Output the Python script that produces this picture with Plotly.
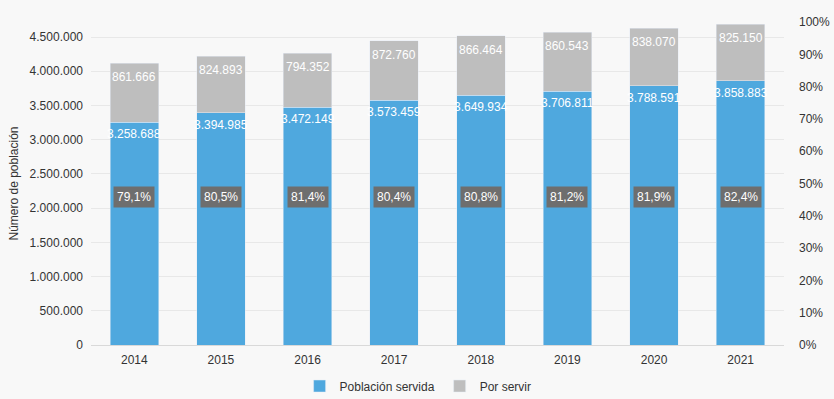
import plotly.graph_objects as go

years = ["2014", "2015", "2016", "2017", "2018", "2019", "2020", "2021"]
servida = [3258688, 3394985, 3472149, 3573459, 3649934, 3706811, 3788591, 3858883]
por_servir = [861666, 824893, 794352, 872760, 866464, 860543, 838070, 825150]
pct = [0.791, 0.805, 0.814, 0.804, 0.808, 0.812, 0.819, 0.824]
pct_labels = ["79,1%", "80,5%", "81,4%", "80,4%", "80,8%", "81,2%", "81,9%", "82,4%"]
left_ticks = [0, 500000, 1000000, 1500000, 2000000, 2500000, 3000000, 3500000, 4000000, 4500000]
right_ticks = [0, 0.1, 0.2, 0.3, 0.4, 0.5, 0.6, 0.7, 0.8, 0.9, 1.0]


def fmt(v):
    return f"{v:,}".replace(",", ".")


FONT = "Liberation Sans, Arial, sans-serif"
BLUE = "#4fa8de"
GRAY = "#bebebe"
xpos = list(range(len(years)))

fig = go.Figure()
fig.add_trace(go.Bar(
    x=xpos, y=servida, name="Población servida", marker_color=BLUE,
    hoverinfo="skip",
))
fig.add_trace(go.Bar(
    x=xpos, y=por_servir, name="Por servir", marker_color=GRAY,
    hoverinfo="skip",
))
fig.add_trace(go.Scatter(
    x=xpos, y=pct, yaxis="y2", mode="markers", marker=dict(opacity=0),
    showlegend=False, hoverinfo="skip",
))

lab_font = dict(color="white", size=12, family=FONT)
for i, s, p, lab in zip(xpos, servida, por_servir, pct_labels):
    fig.add_annotation(x=i, y=s, xref="x", yref="y", text=fmt(s), showarrow=False,
                       yanchor="top", yshift=-3, font=lab_font)
    fig.add_annotation(x=i, y=s + p, xref="x", yref="y", text=fmt(p), showarrow=False,
                       yanchor="top", yshift=-5, font=lab_font)
    fig.add_annotation(
        x=i, y=0.458, xref="x", yref="paper", text=lab, showarrow=False,
        font=lab_font, bgcolor="#6e6e6e", borderpad=3,
    )

fig.update_layout(
    width=834, height=399,
    barmode="stack", bargap=0.44,
    paper_bgcolor="#f8f8f8", plot_bgcolor="#f8f8f8",
    margin=dict(l=91, r=50, t=22, b=54, autoexpand=False),
    font=dict(family=FONT, size=12, color="#333333"),
    xaxis=dict(range=[-0.5, 7.5], tickvals=xpos, ticktext=years, showgrid=False,
               zeroline=False, showline=True, linecolor="#d9d9d9",
               linewidth=1, ticks="", ticklabelstandoff=4,
               tickfont=dict(size=12, color="#333333")),
    yaxis=dict(range=[0, 4720000], tickvals=left_ticks,
               ticktext=[fmt(v) for v in left_ticks], gridcolor="#e8e8e8",
               zeroline=False, ticklabelstandoff=7,
               title=dict(text="Número de población", font=dict(size=12), standoff=8),
               tickfont=dict(size=12, color="#333333")),
    yaxis2=dict(range=[0, 1], overlaying="y", side="right", tickvals=right_ticks,
                ticktext=[f"{round(v * 100)}%" for v in right_ticks],
                showgrid=False, zeroline=False, ticklabelstandoff=14,
                tickfont=dict(size=12, color="#333333")),
    legend=dict(orientation="h", x=0.472, xanchor="center", y=-0.127, yanchor="middle",
                font=dict(size=12, color="#333333"), traceorder="normal",
                itemwidth=30),
)

fig.write_html("out.html", config={"displayModeBar": False},
               post_script="document.body.style.margin='0';")
